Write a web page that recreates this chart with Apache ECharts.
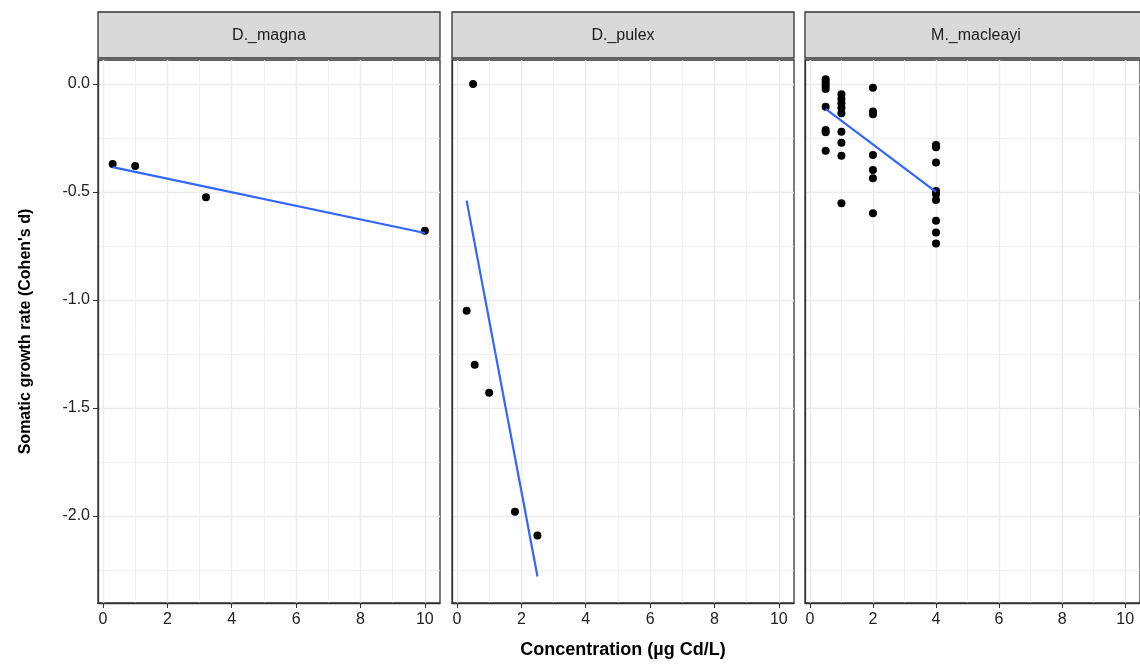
<!DOCTYPE html>
<html><head><meta charset="utf-8">
<script src="https://cdn.jsdelivr.net/npm/echarts@6/dist/echarts.min.js"></script>
<style>html,body{margin:0;padding:0;background:#fff}#c{width:1140px;height:670px}</style>
</head><body><div id="c"></div>
<script>
const panels = ['D._magna','D._pulex','M._macleayi'];
const xTicks = [0,2,4,6,8,10];
const yTicks = [0,-0.5,-1,-1.5,-2];
const magnaPts = [[0.3,-0.37],[1,-0.38],[3.2,-0.525],[10,-0.68]];
const pulexPts = [[0.5,0.0],[0.3,-1.05],[0.55,-1.30],[1.0,-1.43],[1.8,-1.98],[2.5,-2.09]];
const macleayiPts = [
 [0.5,0.022],[0.5,0.011],[0.5,0],[0.5,-0.012],[0.5,-0.023],[0.5,-0.105],[0.5,-0.213],[0.5,-0.224],[0.5,-0.309],
 [1,-0.048],[1,-0.068],[1,-0.089],[1,-0.11],[1,-0.136],[1,-0.221],[1,-0.272],[1,-0.332],[1,-0.552],
 [2,-0.017],[2,-0.128],[2,-0.14],[2,-0.329],[2,-0.398],[2,-0.437],[2,-0.599],
 [4,-0.282],[4,-0.293],[4,-0.364],[4,-0.495],[4,-0.51],[4,-0.537],[4,-0.633],[4,-0.688],[4,-0.738]];
const magnaFit = [[0.3,-0.385],[10,-0.69]];
const pulexFit = [[0.3,-0.54],[2.5,-2.28]];
const macleayiFit = [[0.5,-0.115],[4,-0.50]];
const ptsArr=[magnaPts,pulexPts,macleayiPts], fitArr=[magnaFit,pulexFit,macleayiFit];

const lefts=[98,452,805], W=342, TOP=60, H=543;
const XMIN=-0.155, XMAX=10.47, YMIN=-2.403, YMAX=0.111;
const minorY=[], majorY=[], minorX=[1,3,5,7,9];
for(let v=-2.25; v<=0.001; v+=0.25){ const r=Math.round(v*100)/100; (Math.abs(r*2-Math.round(r*2))<1e-6?majorY:minorY).push(r); }

const grids=[],xAxes=[],yAxes=[],series=[],graphic=[];
const font='Liberation Sans';
panels.forEach((p,i)=>{
  grids.push({left:lefts[i],top:TOP,width:W,height:H,show:true,borderColor:'#333',borderWidth:1.3,backgroundColor:'#fff'});
  xAxes.push({gridIndex:i,type:'value',min:XMIN,max:XMAX,splitLine:{show:false},
    axisLine:{show:true,onZero:false,lineStyle:{color:'#333',width:1.3}},
    axisTick:{show:true,customValues:xTicks,length:5,lineStyle:{color:'#333'}},
    axisLabel:{customValues:xTicks,color:'#222',fontSize:16,fontFamily:font,margin:9},
    name:i===1?'Concentration (µg Cd/L)':'',nameLocation:'middle',nameGap:38,
    nameTextStyle:{fontSize:18,fontWeight:'bold',color:'#000',fontFamily:font}});
  yAxes.push({gridIndex:i,type:'value',min:YMIN,max:YMAX,splitLine:{show:false},
    axisLine:{show:true,onZero:false,lineStyle:{color:'#333',width:1.3}},
    axisTick:{show:i===0,customValues:yTicks,length:5,lineStyle:{color:'#333'}},
    axisLabel:{show:i===0,customValues:yTicks,formatter:v=>v.toFixed(1),color:'#222',fontSize:16,fontFamily:font,margin:8},
    name:i===0?"Somatic growth rate (Cohen's d)":'',nameLocation:'middle',nameGap:64,
    nameTextStyle:{fontSize:16,fontWeight:'bold',color:'#000',fontFamily:font}});
  const ml=(arr,w,axis)=>arr.map(v=>({[axis]:v,lineStyle:{color:'#ebebeb',width:w,type:'solid'}}));
  series.push({type:'line',xAxisIndex:i,yAxisIndex:i,data:[],silent:true,z:0,zlevel:0,
    markLine:{symbol:'none',silent:true,label:{show:false},animation:false,z:0,
      data:[...ml(minorY,0.7,'yAxis'),...ml(majorY,1.4,'yAxis'),...ml(minorX,0.7,'xAxis'),...ml(xTicks,1.4,'xAxis')]}});
  series.push({type:'scatter',xAxisIndex:i,yAxisIndex:i,data:ptsArr[i],symbolSize:8,itemStyle:{color:'#000',opacity:1},z:10});
  series.push({type:'line',xAxisIndex:i,yAxisIndex:i,data:fitArr[i],symbol:'none',lineStyle:{color:'#3366ff',width:2.2},z:11});
  graphic.push({type:'rect',shape:{x:lefts[i],y:12,width:W,height:46},style:{fill:'#d9d9d9',stroke:'#333',lineWidth:1.3}});
  graphic.push({type:'text',x:lefts[i]+W/2,y:36,style:{text:p,fill:'#1a1a1a',font:'16px Liberation Sans',align:'center',verticalAlign:'middle'}});
});
const chart=echarts.init(document.getElementById('c'));
chart.setOption({animation:false,grid:grids,xAxis:xAxes,yAxis:yAxes,series,graphic});
</script></body></html>
